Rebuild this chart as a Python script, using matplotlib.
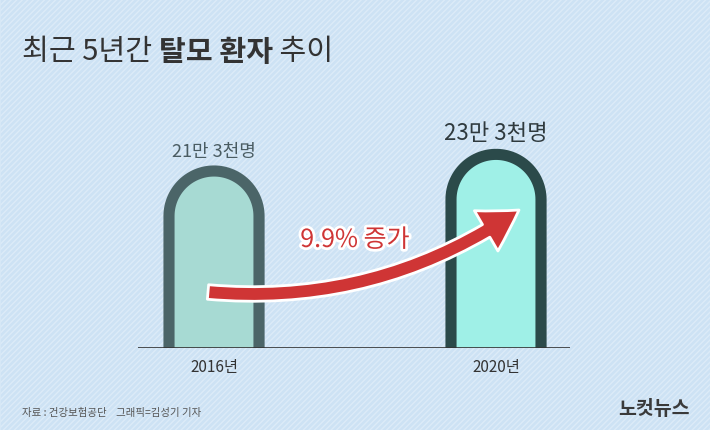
import numpy as np
import matplotlib
matplotlib.use("Agg")
import matplotlib.pyplot as plt
from matplotlib.patches import Rectangle, PathPatch, FancyArrowPatch
from matplotlib.path import Path
import matplotlib.patheffects as pe

plt.rcParams['font.family'] = ['Noto Sans CJK KR', 'DejaVu Sans']

years = ['2016년', '2020년']
values = [21.3, 23.3]          # 만 명
value_labels = ['21만 3천명', '23만 3천명']
growth_label = '9.9% 증가'
title_parts = ['최근 5년간 ', '탈모 환자', ' 추이']
source = '자료 : 건강보험공단    그래픽=김성기 기자'

W, H = 710, 431
fig = plt.figure(figsize=(W/100, H/100), dpi=100)
fig.patch.set_facecolor('#cde2f4')

bg = fig.add_axes([0, 0, 1, 1])
bg.set_xlim(0, W); bg.set_ylim(H, 0); bg.axis('off')
bg.add_patch(Rectangle((0, 0), W, H, facecolor='#cde2f4', edgecolor='#dcebf8', hatch='//////', lw=0.4, zorder=0))

# bar axes
axl, axr, base = 138, 570, 349
ax = fig.add_axes([axl/W, (H-base)/H, (axr-axl)/W, base/H])
ax.axis('off')
ppx = 282.0   # px per category unit
ppy = 8.31    # px per value unit
ax.set_xlim(-76/ppx, (axr-axl-76)/ppx)
ax.set_ylim(0, base/ppy)
ax.patch.set_alpha(0)

bw = 90/ppx
fills = ['#a7dad3', '#9ff0e7']
edges = ['#4b6568', '#2b4a4a']
for i, v in enumerate(values):
    rx = bw/2
    ry = (bw/2)*ppx/ppy
    cy = v - ry
    t = np.linspace(0, np.pi, 60)
    xs = np.concatenate([[i+rx], i + rx*np.cos(t), [i-rx]])
    ys = np.concatenate([[-1], cy + ry*np.sin(t), [-1]])
    ax.add_patch(PathPatch(Path(np.column_stack([xs+0.02, ys-0.3])), facecolor='#9fb4c4', edgecolor='none', alpha=0.5, zorder=1))
    ax.add_patch(PathPatch(Path(np.column_stack([xs, ys])), facecolor=fills[i], edgecolor=edges[i], lw=8, zorder=2))
    ax.text(i, v + 1.3, value_labels[i], ha='center', va='bottom',
            fontsize=13 if i == 0 else 16, color='#4a5c62' if i == 0 else '#2f3a3e', zorder=5)
    ax.text(i, -1.2, years[i], ha='center', va='top', fontsize=11, color='#333333', clip_on=False)
ax.axhline(0, color='#333333', lw=1.2, zorder=3)

# overlay
ov = fig.add_axes([0, 0, 1, 1])
ov.set_xlim(0, W); ov.set_ylim(H, 0); ov.axis('off'); ov.patch.set_alpha(0)
arr = FancyArrowPatch((208, 293), (519, 211), connectionstyle='arc3,rad=0.18',
                      arrowstyle='simple,head_width=2.4,head_length=2.0,tail_width=0.75',
                      mutation_scale=14, facecolor='#cf3535', edgecolor='white', lw=2,
                      shrinkA=0, shrinkB=0, zorder=6)
ov.add_patch(arr)
ov.text(355, 241, growth_label, ha='center', va='center', fontsize=18, color='#cf3535', zorder=7,
        path_effects=[pe.withStroke(linewidth=4, foreground='white')])

# title
t1 = ov.text(22, 60, title_parts[0], fontsize=21, color='#333333', va='baseline')
t2 = ov.annotate(title_parts[1], xy=(1, 0), xycoords=t1, fontsize=21, fontweight='bold', color='#333333', va='bottom')
ov.annotate(title_parts[2], xy=(1, 0), xycoords=t2, fontsize=21, color='#333333', va='bottom')

ov.text(22, 413, source, fontsize=7.5, color='#555555', va='center')
ov.text(690, 410, '노컷뉴스', fontsize=14, fontweight='bold', color='#3a3a3a', va='center', ha='right')

fig.savefig('out.png', dpi=100, facecolor=fig.get_facecolor())
